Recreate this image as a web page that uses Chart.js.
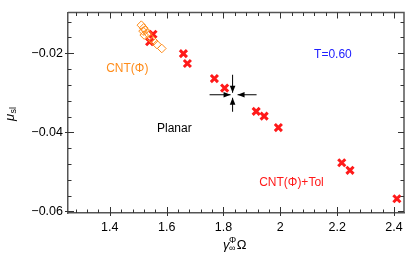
<!DOCTYPE html>
<html><head><meta charset="utf-8">
<script src="https://cdn.jsdelivr.net/npm/chart.js@4"></script>
<style>html,body{margin:0;padding:0;background:#fff}#wrap{width:415px;height:264px;position:relative}</style>
</head><body><div id="wrap"><canvas id="c" width="415" height="264"></canvas></div>
<script>
// ---- data ----
const cntX = [1.511, 1.519, 1.517, 1.525, 1.521, 1.533, 1.545, 1.554, 1.566, 1.583];
const cntY = [-0.0129, -0.0136, -0.0144, -0.0142, -0.0154, -0.0150, -0.0163, -0.0169, -0.0178, -0.0188];
const tolX = [1.552, 1.540, 1.659, 1.673, 1.768, 1.804, 1.915, 1.943, 1.993, 2.216, 2.245, 2.410];
const tolY = [-0.0152, -0.0171, -0.0201, -0.0226, -0.0264, -0.0288, -0.0347, -0.0359, -0.0388, -0.0477, -0.0496, -0.0568];
const xTicks = [1.4, 1.6, 1.8, 2.0, 2.2, 2.4];
const xTickLabels = ['1.4', '1.6', '1.8', '2', '2.2', '2.4'];
const yTicks = [-0.06, -0.04, -0.02];
const yTickLabels = ['\u22120.06', '\u22120.04', '\u22120.02'];
const planarPoint = [1.832, -0.0305];
const noteTexts = ['CNT(\u03A6)', 'T=0.60', 'Planar', 'CNT(\u03A6)+Tol'];
const noteX = [1.4615, 2.185, 1.627, 2.039];
const noteY = [-0.0238, -0.02025, -0.0392, -0.0527];
const noteColors = ['#ff8c1a', '#2020ff', '#000000', '#ff1a1a'];

const FONT = '"Liberation Sans", Arial, Helvetica, sans-serif';
const AX = '#555555';

function minorTicks(lo, hi, step) {
  const out = [];
  for (let v = lo; v <= hi + 1e-9; v += step) out.push(+v.toFixed(4));
  return out;
}

const decor = {
  id: 'decor',
  afterDatasetsDraw(chart) {
    const ctx = chart.ctx, a = chart.chartArea;
    const xs = chart.scales.x, ys = chart.scales.y;
    ctx.save();
    // frame top/right
    ctx.strokeStyle = AX; ctx.lineWidth = 1.5;
    ctx.beginPath();
    ctx.moveTo(a.left, a.top); ctx.lineTo(a.right, a.top); ctx.lineTo(a.right, a.bottom);
    ctx.stroke();
    ctx.lineWidth = 1;
    ctx.strokeStyle = '#333';
    // x ticks
    const xm = minorTicks(1.28, 2.44, 0.04);
    ctx.beginPath();
    xm.forEach(v => {
      const p = Math.round(xs.getPixelForValue(v)) + 0.5;
      if (p < a.left || p > a.right) return;
      const major = xTicks.some(t => Math.abs(t - v) < 1e-6);
      const L = major ? 6 : 3.5;
      ctx.moveTo(p, a.bottom + (major ? 3 : 0)); ctx.lineTo(p, a.bottom - L);
      ctx.moveTo(p, a.top); ctx.lineTo(p, a.top + L);
    });
    // y ticks
    const ym = minorTicks(-0.06, -0.008, 0.004);
    ym.forEach(v => {
      const p = Math.round(ys.getPixelForValue(v)) + 0.5;
      if (p < a.top || p > a.bottom) return;
      const major = yTicks.some(t => Math.abs(t - v) < 1e-6);
      const L = major ? 6 : 3.5;
      ctx.moveTo(a.left - (major ? 3 : 0), p); ctx.lineTo(a.left + L, p);
      ctx.moveTo(a.right, p); ctx.lineTo(a.right - L, p);
    });
    ctx.stroke();

    // crosshair arrows around planar point
    const cx = xs.getPixelForValue(planarPoint[0]);
    const cy = ys.getPixelForValue(planarPoint[1]);
    ctx.strokeStyle = '#000'; ctx.fillStyle = '#000'; ctx.lineWidth = 1;
    function arrow(x0, y0, x1, y1) {
      ctx.beginPath(); ctx.moveTo(x0, y0); ctx.lineTo(x1, y1); ctx.stroke();
      const ang = Math.atan2(y1 - y0, x1 - x0), L = 7, W = 2.8;
      ctx.beginPath();
      ctx.moveTo(x1, y1);
      ctx.lineTo(x1 - L * Math.cos(ang) - W * Math.sin(ang), y1 - L * Math.sin(ang) + W * Math.cos(ang));
      ctx.lineTo(x1 - L * Math.cos(ang) + W * Math.sin(ang), y1 - L * Math.sin(ang) - W * Math.cos(ang));
      ctx.closePath(); ctx.fill();
    }
    arrow(cx - 23, cy, cx - 2, cy);
    arrow(cx + 24, cy, cx + 5, cy);
    arrow(cx, cy - 20, cx, cy - 2);
    arrow(cx, cy + 17, cx, cy + 3);

    // text notes
    ctx.font = '12px ' + FONT;
    ctx.textAlign = 'center'; ctx.textBaseline = 'middle';
    noteTexts.forEach((t, i) => {
      ctx.fillStyle = noteColors[i];
      ctx.fillText(t, xs.getPixelForValue(noteX[i]), ys.getPixelForValue(noteY[i]));
    });

    // x title: gamma^Phi_inf Omega
    ctx.fillStyle = '#000';
    ctx.textAlign = 'left'; ctx.textBaseline = 'alphabetic';
    const bx = 223, by = 249;
    ctx.font = 'italic 13px ' + FONT;
    ctx.fillText('\u03B3', bx, by);
    const gw = ctx.measureText('\u03B3').width;
    ctx.font = '9px ' + FONT;
    ctx.fillText('\u03A6', bx + gw - 0.5, by - 6);
    ctx.fillText('\u221E', bx + gw - 0.5, by + 1.5);
    const sw = Math.max(ctx.measureText('\u03A6').width, ctx.measureText('\u221E').width);
    ctx.font = '13px ' + FONT;
    ctx.fillText('\u03A9', bx + gw + sw, by);

    // y title: mu_sl
    ctx.save();
    ctx.translate(13.5, 121);
    ctx.rotate(-Math.PI / 2);
    ctx.font = 'italic 13px ' + FONT;
    ctx.fillText('\u03BC', 0, 0);
    const mw = ctx.measureText('\u03BC').width;
    ctx.font = '9px ' + FONT;
    ctx.fillText('sl', mw + 0.5, 2.5);
    ctx.restore();
    ctx.restore();
  }
};

new Chart(document.getElementById('c'), {
  type: 'scatter',
  data: {
    datasets: [
      {
        label: 'CNT(\u03A6)',
        data: cntX.map((x, i) => ({ x: x, y: cntY[i] })),
        pointStyle: 'rectRot', pointRadius: 4.3, pointBorderWidth: 1,
        borderColor: '#ff8c1a', backgroundColor: 'rgba(255,255,255,0)'
      },
      {
        label: 'CNT(\u03A6)+Tol',
        data: tolX.map((x, i) => ({ x: x, y: tolY[i] })),
        pointStyle: 'crossRot', pointRadius: 5, pointBorderWidth: 3,
        borderColor: '#ff1a1a', backgroundColor: '#ff1a1a'
      }
    ]
  },
  options: {
    responsive: false, animation: false, devicePixelRatio: 1,
    layout: { padding: { left: 0, top: 11, right: 11, bottom: 0 } },
    plugins: { legend: { display: false }, tooltip: { enabled: false } },
    scales: {
      x: {
        type: 'linear', min: 1.253, max: 2.435,
        afterBuildTicks: s => { s.ticks = xTicks.map(v => ({ value: v })); },
        afterFit: s => { s.height = 51; },
        ticks: { callback: (v, i) => xTickLabels[i], color: '#000', font: { size: 12.5, family: FONT }, padding: 7, maxRotation: 0, autoSkip: false },
        grid: { display: false, drawTicks: false },
        border: { display: true, color: AX, width: 1.5 }
      },
      y: {
        type: 'linear', min: -0.0604, max: -0.0097,
        afterBuildTicks: s => { s.ticks = yTicks.map(v => ({ value: v })); },
        afterFit: s => { s.width = 68; },
        ticks: { callback: (v, i) => yTickLabels[i], color: '#000', font: { size: 12.5, family: FONT }, padding: 5, autoSkip: false },
        grid: { display: false, drawTicks: false },
        border: { display: true, color: AX, width: 1.5 }
      }
    }
  },
  plugins: [decor]
});
</script>
</body></html>
